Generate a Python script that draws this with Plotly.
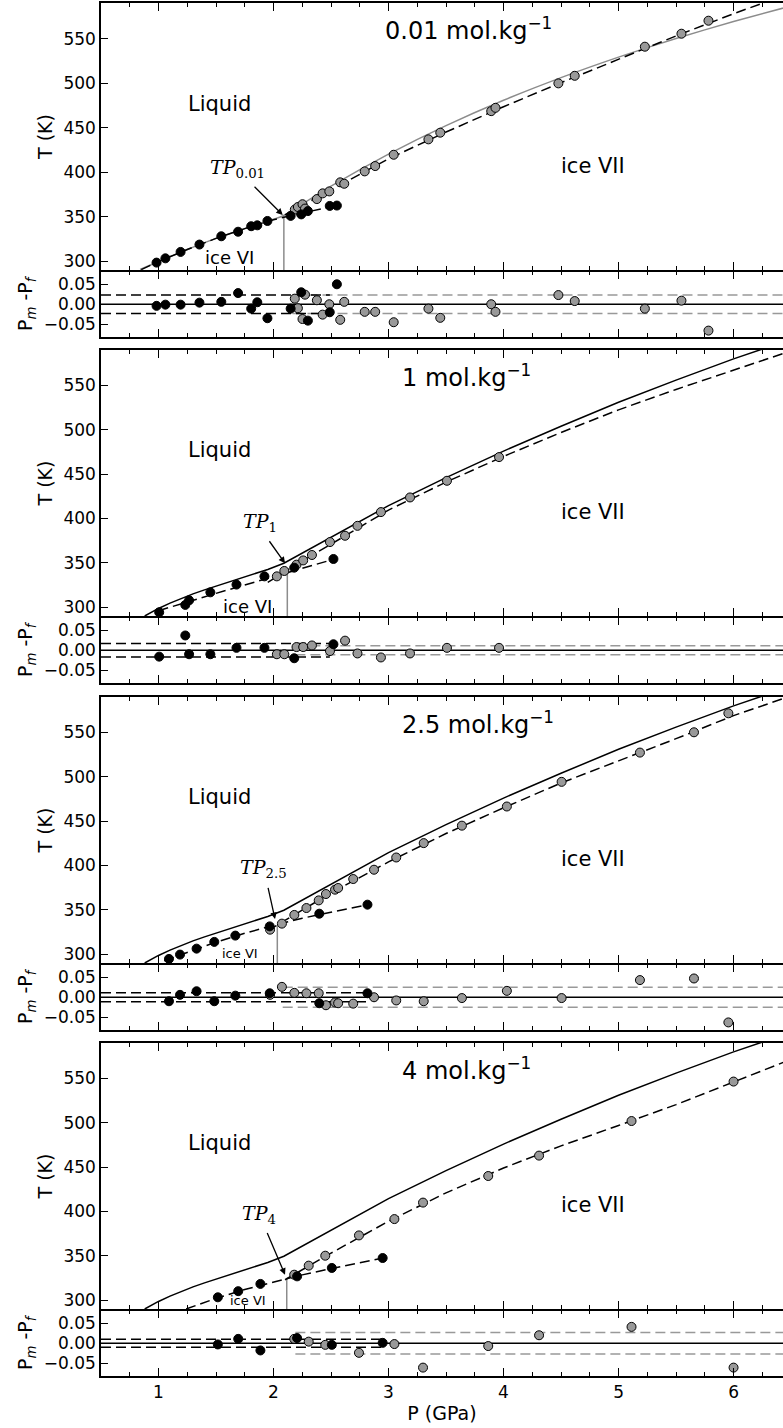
import plotly.graph_objects as go

# ---------------- data ----------------
# x axis (pressure, GPa)
x_range = [0.5, 6.43]
main_T_range = [290, 590]
res_range = [-0.082, 0.082]
panel_titles = ["0.01 mol.kg<sup>−1</sup>", "1 mol.kg<sup>−1</sup>",
                "2.5 mol.kg<sup>−1</sup>", "4 mol.kg<sup>−1</sup>"]
tp_labels = ["0.01", "1", "2.5", "4"]

# reference melting curve (panels 2-4, black solid)
ref_P = [0.88, 0.95, 1.0, 1.1, 1.2, 1.3, 1.4, 1.5, 1.65, 1.8, 1.95, 2.09,
         2.5, 3.0, 3.5, 4.0, 4.5, 5.0, 5.5, 6.0, 6.25]
ref_T = [290, 295, 298.5, 304.5, 310, 315, 319.5, 323.8, 330.5, 336.5, 342.5, 349.5,
         379, 414.5, 446, 476, 504, 531, 556, 580, 591]

# panel 1 : 0.01 mol/kg
p1_curve_P = [0.84, 1.0, 1.25, 1.5, 1.75, 2.0, 2.085, 2.5, 3.0, 3.5, 4.0, 4.5, 5.0, 5.5, 6.0, 6.5]
p1_curve_T = [290.5, 299.5, 313, 325.5, 336.5, 347, 351, 384.2, 420.2, 452.2, 480.7, 506.2, 529.2,
              550.2, 569.2, 586.7]
p1_fitVI_P = [0.85, 1.0, 1.25, 1.5, 1.75, 2.0, 2.25, 2.55]
p1_fitVI_T = [290.5, 299.5, 313, 325.5, 336.5, 346.5, 354, 362.5]
p1_fitVII_P = [2.1, 2.5, 3.0, 3.5, 4.0, 4.5, 5.0, 5.5, 6.0, 6.3]
p1_fitVII_T = [352, 380, 415, 445, 473.5, 500.5, 527, 553, 578, 592]
p1_VI_P = [0.983, 1.060, 1.192, 1.356, 1.546, 1.692, 1.806, 1.859, 1.947, 2.149, 2.241, 2.299, 2.489, 2.551]
p1_VI_T = [298.3, 303.1, 310.3, 318.6, 327.9, 333.0, 339.2, 340.2, 345.1, 350.8, 352.5, 356.2, 362.0, 362.4]
p1_VI_R = [-0.004, -0.001, -0.001, 0.004, 0.006, 0.028, -0.011, 0.005, -0.035, -0.011, 0.030, -0.041, -0.020, 0.050]
p1_VII_P = [2.185, 2.212, 2.252, 2.274, 2.377, 2.427, 2.485, 2.580, 2.615, 2.793, 2.884, 3.045,
            3.347, 3.450, 3.893, 3.930, 4.477, 4.619, 5.229, 5.547, 5.782]
p1_VII_T = [357.9, 360.8, 363.9, 359.0, 369.7, 376.1, 378.3, 388.5, 386.9, 400.8, 406.8, 419.5,
            436.8, 444.3, 468.5, 472.2, 499.7, 508.2, 540.9, 555.5, 570.1]
p1_VII_R = [0.014, -0.010, -0.037, 0.024, 0.010, -0.026, 0.000, -0.039, 0.006, -0.019, -0.019, -0.045,
            -0.011, -0.034, 0.000, -0.019, 0.023, 0.008, -0.011, 0.009, -0.066]

# panel 2 : 1 mol/kg
p2_fitVI_P = [1.0, 1.25, 1.5, 1.75, 2.0, 2.25, 2.55]
p2_fitVI_T = [296, 306, 315.5, 325, 334.5, 343.5, 355]
p2_fitVII_P = [1.95, 2.25, 2.5, 3.0, 3.5, 4.0, 4.5, 5.0, 5.5, 6.0, 6.5]
p2_fitVII_T = [328, 352, 371, 409.5, 441, 470, 497, 522.5, 545.5, 567.5, 589]
p2_VI_P = [1.006, 1.233, 1.266, 1.451, 1.678, 1.921, 2.180, 2.521]
p2_VI_T = [294.2, 302.5, 307.7, 316.7, 325.4, 334.7, 344.5, 354.3]
p2_VI_R = [-0.016, 0.037, -0.010, -0.010, 0.006, 0.006, -0.020, 0.015]
p2_VII_P = [2.029, 2.094, 2.200, 2.258, 2.334, 2.491, 2.622, 2.730, 2.934, 3.187, 3.508, 3.961]
p2_VII_T = [334.7, 340.8, 347.9, 352.7, 358.8, 373.4, 380.5, 391.7, 407.2, 423.7, 442.5, 469.2]
p2_VII_R = [-0.010, -0.010, 0.008, 0.008, 0.012, -0.002, 0.024, -0.008, -0.018, -0.008, 0.006, 0.006]

# panel 3 : 2.5 mol/kg
p3_fitVI_P = [1.05, 1.25, 1.5, 1.75, 2.0, 2.25, 2.5, 2.85]
p3_fitVI_T = [292.5, 302, 313.5, 323.5, 332.5, 340.5, 347.5, 356.5]
p3_fitVII_P = [1.95, 2.25, 2.5, 3.0, 3.5, 4.0, 4.5, 5.0, 5.5, 6.0, 6.45]
p3_fitVII_T = [326.5, 350, 369, 404, 436, 465, 493, 518, 543, 569, 589]
p3_VI_P = [1.091, 1.187, 1.331, 1.485, 1.668, 1.967, 2.398, 2.817]
p3_VI_T = [294.6, 299.5, 306.2, 313.8, 320.9, 331.3, 345.6, 355.8]
p3_VI_R = [-0.010, 0.006, 0.015, -0.010, 0.004, 0.010, -0.015, 0.010]
p3_VII_P = [1.970, 2.073, 2.181, 2.286, 2.393, 2.456, 2.535, 2.562, 2.693, 2.874, 3.067, 3.306,
            3.638, 4.029, 4.505, 5.186, 5.656, 5.955]
p3_VII_T = [327.6, 334.4, 344.2, 352.0, 360.6, 367.8, 372.7, 374.6, 384.7, 395.2, 409.0, 425.2,
            444.9, 466.5, 494.3, 527.3, 550.2, 571.6]
p3_VII_R = [0.006, 0.026, 0.011, 0.010, 0.010, -0.020, -0.013, -0.015, -0.016, 0.000, -0.008, -0.010,
            -0.002, 0.016, -0.002, 0.043, 0.047, -0.063]

# panel 4 : 4 mol/kg
p4_fitVI_P = [1.24, 1.5, 1.75, 2.0, 2.25, 2.5, 2.75, 2.97]
p4_fitVI_T = [290, 302, 312, 320.5, 328.5, 335.5, 342, 348]
p4_fitVII_P = [2.1, 2.5, 3.0, 3.5, 4.0, 4.5, 5.0, 5.5, 6.0, 6.45]
p4_fitVII_T = [323, 353, 389, 421, 449, 474, 497, 520.5, 546, 569]
p4_VI_P = [1.516, 1.693, 1.886, 2.205, 2.507, 2.949]
p4_VI_T = [303.2, 310.1, 318.3, 326.8, 336.3, 347.5]
p4_VI_R = [-0.003, 0.011, -0.018, 0.013, -0.004, 0.001]
p4_VII_P = [2.180, 2.306, 2.450, 2.743, 3.051, 3.300, 3.867, 4.309, 5.113, 6.000]
p4_VII_T = [328.7, 338.9, 350.1, 373.0, 391.4, 410.0, 440.0, 463.0, 502.0, 546.5]
p4_VII_R = [0.011, 0.004, -0.004, -0.024, -0.002, -0.061, -0.007, 0.020, 0.041, -0.061]

# triple points: vertical line position / top, arrow tip, arrow tail, label position
tp_line_P = [2.09, 2.12, 2.033, 2.115]
tp_line_T = [351, 344, 333, 325]
tp_tip_P = [2.08, 2.10, 2.013, 2.10]
tp_tip_T = [351.8, 349.4, 339.7, 328.7]
tp_tail_P = [1.822, 1.955, 1.95, 1.94]
tp_tail_T = [385.3, 376.0, 376.4, 377.5]
tp_text_P = [1.69, 1.88, 1.91, 1.87]
tp_text_T = [404.4, 395.5, 397.0, 396.3]

# residual bands: half-width and extent of ice VI (black) and ice VII (gray) bands
bandVI_w = [0.023, 0.017, 0.011, 0.010]
bandVI_end = [2.49, 2.49, 2.83, 2.95]
bandVII_w = [0.023, 0.011, 0.025, 0.027]
bandVII_start = [2.165, 2.19, 2.08, 2.19]

# region labels
liquid_pos = (1.53, 477)
iceVII_pos = (4.78, 407)
iceVI_P = [1.62, 1.77, 1.71, 1.78]
iceVI_T = [304.6, 300.6, 300.6, 299.5]
iceVI_size = [18, 18, 13, 13]
title_P = [2.95, 3.1, 3.1, 3.1]
title_T = 560.5

# ---------------- figure ----------------
W, H = 783, 1428
TOP, BOT = 3, 1376
LW = 1.5
main_px = [(3, 270), (350, 616), (697, 963), (1043, 1309)]
res_px = [(270 + LW, 337), (616 + LW, 683), (963 + LW, 1030), (1309 + LW, 1376)]


def dom(a, b):
    span = BOT - TOP
    return [(BOT - b) / span, (BOT - a) / span]


GRAY = "#999999"
LGRAY = "#8c8c8c"
FONT = "DejaVu Sans"

fig = go.Figure()

panels = [
    (p1_fitVI_P, p1_fitVI_T, p1_fitVII_P, p1_fitVII_T, p1_VI_P, p1_VI_T, p1_VI_R, p1_VII_P, p1_VII_T, p1_VII_R),
    (p2_fitVI_P, p2_fitVI_T, p2_fitVII_P, p2_fitVII_T, p2_VI_P, p2_VI_T, p2_VI_R, p2_VII_P, p2_VII_T, p2_VII_R),
    (p3_fitVI_P, p3_fitVI_T, p3_fitVII_P, p3_fitVII_T, p3_VI_P, p3_VI_T, p3_VI_R, p3_VII_P, p3_VII_T, p3_VII_R),
    (p4_fitVI_P, p4_fitVI_T, p4_fitVII_P, p4_fitVII_T, p4_VI_P, p4_VI_T, p4_VI_R, p4_VII_P, p4_VII_T, p4_VII_R),
]

dash = "10px,5px"
annotations = []
layout_axes = {}

for i, (fvP, fvT, f7P, f7T, vP, vT, vR, sP, sT, sR) in enumerate(panels):
    mi = 2 * i + 1      # main axis index
    ri = 2 * i + 2      # residual axis index
    mx, my = ("x" if mi == 1 else f"x{mi}"), ("y" if mi == 1 else f"y{mi}")
    rx, ry = f"x{ri}", f"y{ri}"

    # solid reference curve
    if i == 0:
        fig.add_trace(go.Scatter(x=p1_curve_P, y=p1_curve_T, mode="lines",
                                 line=dict(color=LGRAY, width=1.5, shape="spline", smoothing=0.6),
                                 xaxis=mx, yaxis=my))
    else:
        fig.add_trace(go.Scatter(x=ref_P, y=ref_T, mode="lines",
                                 line=dict(color="black", width=1.5), xaxis=mx, yaxis=my))
    # TP vertical line
    fig.add_trace(go.Scatter(x=[tp_line_P[i], tp_line_P[i]], y=[main_T_range[0], tp_line_T[i]],
                             mode="lines", line=dict(color=LGRAY, width=1.5), xaxis=mx, yaxis=my))
    # fits
    fig.add_trace(go.Scatter(x=fvP, y=fvT, mode="lines", line=dict(color="black", width=1.5, dash=dash),
                             xaxis=mx, yaxis=my))
    fig.add_trace(go.Scatter(x=f7P, y=f7T, mode="lines", line=dict(color="black", width=1.5, dash=dash),
                             xaxis=mx, yaxis=my))
    # data points
    fig.add_trace(go.Scatter(x=sP, y=sT, mode="markers",
                             marker=dict(color=GRAY, size=9, line=dict(color="black", width=1)),
                             xaxis=mx, yaxis=my))
    fig.add_trace(go.Scatter(x=vP, y=vT, mode="markers",
                             marker=dict(color="black", size=9, line=dict(color="black", width=1)),
                             xaxis=mx, yaxis=my))

    # residual panel
    fig.add_trace(go.Scatter(x=[bandVII_start[i], 6.5], y=[bandVII_w[i]] * 2, mode="lines",
                             line=dict(color=GRAY, width=1.5, dash=dash), xaxis=rx, yaxis=ry))
    fig.add_trace(go.Scatter(x=[bandVII_start[i], 6.5], y=[-bandVII_w[i]] * 2, mode="lines",
                             line=dict(color=GRAY, width=1.5, dash=dash), xaxis=rx, yaxis=ry))
    fig.add_trace(go.Scatter(x=[0.5, bandVI_end[i]], y=[bandVI_w[i]] * 2, mode="lines",
                             line=dict(color="black", width=1.5, dash=dash), xaxis=rx, yaxis=ry))
    fig.add_trace(go.Scatter(x=[0.5, bandVI_end[i]], y=[-bandVI_w[i]] * 2, mode="lines",
                             line=dict(color="black", width=1.5, dash=dash), xaxis=rx, yaxis=ry))
    fig.add_trace(go.Scatter(x=[0.5, 6.5], y=[0, 0], mode="lines",
                             line=dict(color="black", width=1.5), xaxis=rx, yaxis=ry))
    fig.add_trace(go.Scatter(x=sP, y=sR, mode="markers",
                             marker=dict(color=GRAY, size=9, line=dict(color="black", width=1)),
                             xaxis=rx, yaxis=ry))
    fig.add_trace(go.Scatter(x=vP, y=vR, mode="markers",
                             marker=dict(color="black", size=9, line=dict(color="black", width=1)),
                             xaxis=rx, yaxis=ry))

    # axes
    common_x = dict(range=x_range, showline=True, linecolor="black", linewidth=LW, mirror="ticks",
                    ticks="inside", ticklen=8, tickwidth=1.2, tickcolor="black", dtick=1, tick0=1,
                    minor=dict(ticks="inside", ticklen=4, tickwidth=1, dtick=0.25, tick0=0.5,
                               tickcolor="black"),
                    showgrid=False, zeroline=False,
                    tickfont=dict(family=FONT, size=17, color="black"))
    layout_axes["xaxis" if mi == 1 else f"xaxis{mi}"] = dict(common_x, anchor=my, showticklabels=False,
                                                             domain=[0, 1])
    xr = dict(common_x, anchor=ry, domain=[0, 1], showticklabels=(i == 3))
    if i == 3:
        xr["title"] = dict(text="P (GPa)", font=dict(family=FONT, size=19, color="black"), standoff=6)
    layout_axes[f"xaxis{ri}"] = xr

    layout_axes["yaxis" if mi == 1 else f"yaxis{mi}"] = dict(
        range=main_T_range, domain=dom(*main_px[i]), anchor=mx, showline=True, linecolor="black",
        linewidth=LW, ticks="inside", ticklen=7, tickwidth=1.2, tickcolor="black",
        tickvals=[300, 350, 400, 450, 500, 550], showgrid=False, zeroline=False,
        tickfont=dict(family=FONT, size=17, color="black"),
        title=dict(text="T (K)", font=dict(family=FONT, size=19, color="black"), standoff=6))
    layout_axes[f"yaxis{ri}"] = dict(
        range=res_range, domain=dom(*res_px[i]), anchor=rx, showline=True, linecolor="black",
        linewidth=LW, ticks="inside", ticklen=7, tickwidth=1.2, tickcolor="black",
        tickvals=[-0.05, 0.0, 0.05], tickformat=".2f", showgrid=False, zeroline=False,
        tickfont=dict(family=FONT, size=17, color="black"),
        title=dict(text="P<sub><i>m</i></sub> -P<sub><i>f</i></sub>",
                   font=dict(family=FONT, size=19, color="black"), standoff=6))

    # text labels
    annotations.append(dict(x=liquid_pos[0], y=liquid_pos[1], xref=mx, yref=my, text="Liquid",
                            showarrow=False, font=dict(family=FONT, size=21, color="black")))
    annotations.append(dict(x=iceVII_pos[0], y=iceVII_pos[1], xref=mx, yref=my, text="ice VII",
                            showarrow=False, font=dict(family=FONT, size=21, color="black")))
    annotations.append(dict(x=iceVI_P[i], y=iceVI_T[i], xref=mx, yref=my, text="ice VI",
                            showarrow=False, font=dict(family=FONT, size=iceVI_size[i], color="black")))
    annotations.append(dict(x=title_P[i], y=title_T, xref=mx, yref=my, text=panel_titles[i],
                            xanchor="left", showarrow=False,
                            font=dict(family=FONT, size=24, color="black")))
    # triple-point label and arrow
    annotations.append(dict(x=tp_text_P[i], y=tp_text_T[i], xref=mx, yref=my,
                            text=f"<i>TP</i><sub>{tp_labels[i]}</sub>", showarrow=False,
                            font=dict(family="DejaVu Serif", size=19, color="black")))
    annotations.append(dict(x=tp_tip_P[i], y=tp_tip_T[i], xref=mx, yref=my,
                            ax=tp_tail_P[i], ay=tp_tail_T[i], axref=mx, ayref=my,
                            text="", showarrow=True,
                            arrowhead=2, arrowsize=1, arrowwidth=1.3, arrowcolor="black", standoff=0))

fig.update_layout(
    width=W, height=H, showlegend=False,
    margin=dict(l=101, r=0, t=TOP, b=H - BOT),
    paper_bgcolor="white", plot_bgcolor="white",
    annotations=annotations,
    **layout_axes,
)

fig.write_html("out.html", config={"displayModeBar": False},
               post_script="document.body.style.margin='0px';document.body.style.overflow='hidden';")
